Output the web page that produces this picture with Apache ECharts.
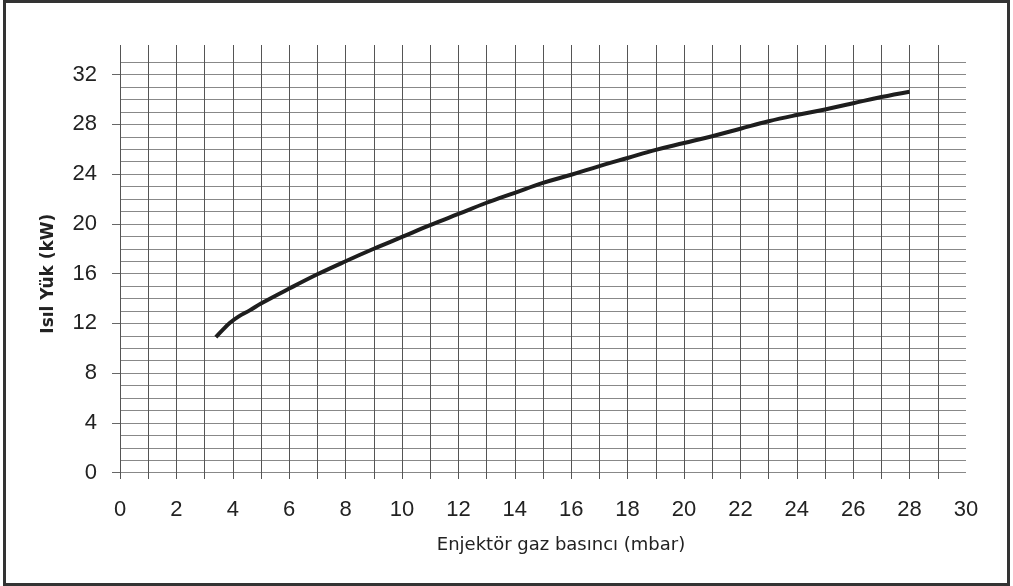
<!DOCTYPE html>
<html>
<head>
<meta charset="utf-8">
<script src="https://cdn.jsdelivr.net/npm/echarts@6/dist/echarts.min.js"></script>
<style>
html, body { margin: 0; padding: 0; background: #fff; }
#chart { width: 1013px; height: 586px; }
</style>
</head>
<body>
<div id="chart"></div>
<script>
// Enjektör gaz basıncı (mbar) -> Isıl Yük (kW)
var pressure = [3.4, 3.65, 3.9, 4.2, 4.6, 5, 6, 7, 8, 9, 10, 11, 12, 13, 14, 15, 16, 17, 18, 19, 20, 21, 22, 23, 24, 25, 26, 27, 28];
var load = [10.9, 11.5, 12.05, 12.55, 13.05, 13.6, 14.8, 15.95, 17.0, 18.0, 18.95, 19.9, 20.8, 21.7, 22.5, 23.3, 23.95, 24.65, 25.3, 25.95, 26.5, 27.05, 27.65, 28.25, 28.75, 29.2, 29.7, 30.2, 30.63];

// axis ranges (mbar / kW)
var xLabelMax = 30;   // labels 0..30 step 2
var xGridMax = 29;    // vertical grid lines 0..29
var yGridMax = 33;    // horizontal grid lines 0..33
var yLabelMax = 32;   // labels 0..32 step 4

var chart = echarts.init(document.getElementById('chart'));

var points = pressure.map(function (p, i) { return [p, load[i]]; });

// pixel layout of the plot
var left = 120, bottom = 113.3;
var unitX = 28.2, unitY = 12.44;
var plotTop = 586 - bottom - yGridMax * unitY;

var option = {
  animation: false,
  backgroundColor: '#fff',
  grid: [
    { left: left, width: xLabelMax * unitX, top: plotTop, bottom: bottom },
    { left: left, width: xGridMax * unitX, top: 45, bottom: 107 },
    { left: left, width: xLabelMax * unitX, top: 586 - bottom - yLabelMax * unitY, bottom: bottom }
  ],
  graphic: [{
    type: 'rect',
    shape: { x: 4.5, y: 1.5, width: 1004, height: 583 },
    style: { fill: 'none', stroke: '#333', lineWidth: 3 }
  }],
  xAxis: [{
    gridIndex: 0,
    type: 'value',
    min: 0, max: xLabelMax, interval: 2,
    axisLine: { show: false },
    axisTick: { show: false },
    axisLabel: { margin: 26, fontFamily: 'Liberation Sans', fontSize: 22, color: '#222' },
    splitLine: { show: false },
    name: 'Enjektör gaz basıncı (mbar)',
    nameLocation: 'middle',
    nameGap: 64,
    nameTextStyle: { fontFamily: 'DejaVu Sans', fontSize: 18, color: '#222', padding: [0, 0, 0, 36] }
  }, {
    gridIndex: 1,
    type: 'value',
    min: 0, max: xGridMax, interval: 1,
    axisLine: { show: false },
    axisTick: { show: false },
    axisLabel: { show: false },
    splitLine: { show: true, showMinLine: true, showMaxLine: true, lineStyle: { color: '#555', width: 1 } }
  }, {
    gridIndex: 2,
    type: 'value',
    show: false,
    min: 0, max: xLabelMax
  }],
  yAxis: [{
    gridIndex: 0,
    type: 'value',
    min: 0, max: yGridMax, interval: 1,
    axisLine: { show: false },
    axisTick: { show: false },
    axisLabel: { show: false },
    splitLine: { show: true, showMinLine: true, showMaxLine: true, lineStyle: { color: '#888', width: 1 } }
  }, {
    gridIndex: 1,
    type: 'value',
    show: false,
    min: 0, max: 1
  }, {
    gridIndex: 2,
    type: 'value',
    min: 0, max: yLabelMax, interval: 4,
    axisLine: { show: false },
    axisTick: { show: true, length: 8, lineStyle: { color: '#666' } },
    axisLabel: { margin: 23, fontFamily: 'Liberation Sans', fontSize: 22, color: '#222' },
    splitLine: { show: false },
    name: 'Isıl Yük (kW)',
    nameLocation: 'middle',
    nameGap: 63,
    nameRotate: 90,
    nameTextStyle: { fontFamily: 'DejaVu Sans', fontWeight: 'bold', fontSize: 17, color: '#222' }
  }],
  series: [{
    type: 'line',
    xAxisIndex: 0,
    yAxisIndex: 0,
    data: points,
    smooth: 0.4,
    showSymbol: false,
    lineStyle: { color: '#1e1e1e', width: 4 }
  }]
};

chart.setOption(option);
</script>
</body>
</html>
